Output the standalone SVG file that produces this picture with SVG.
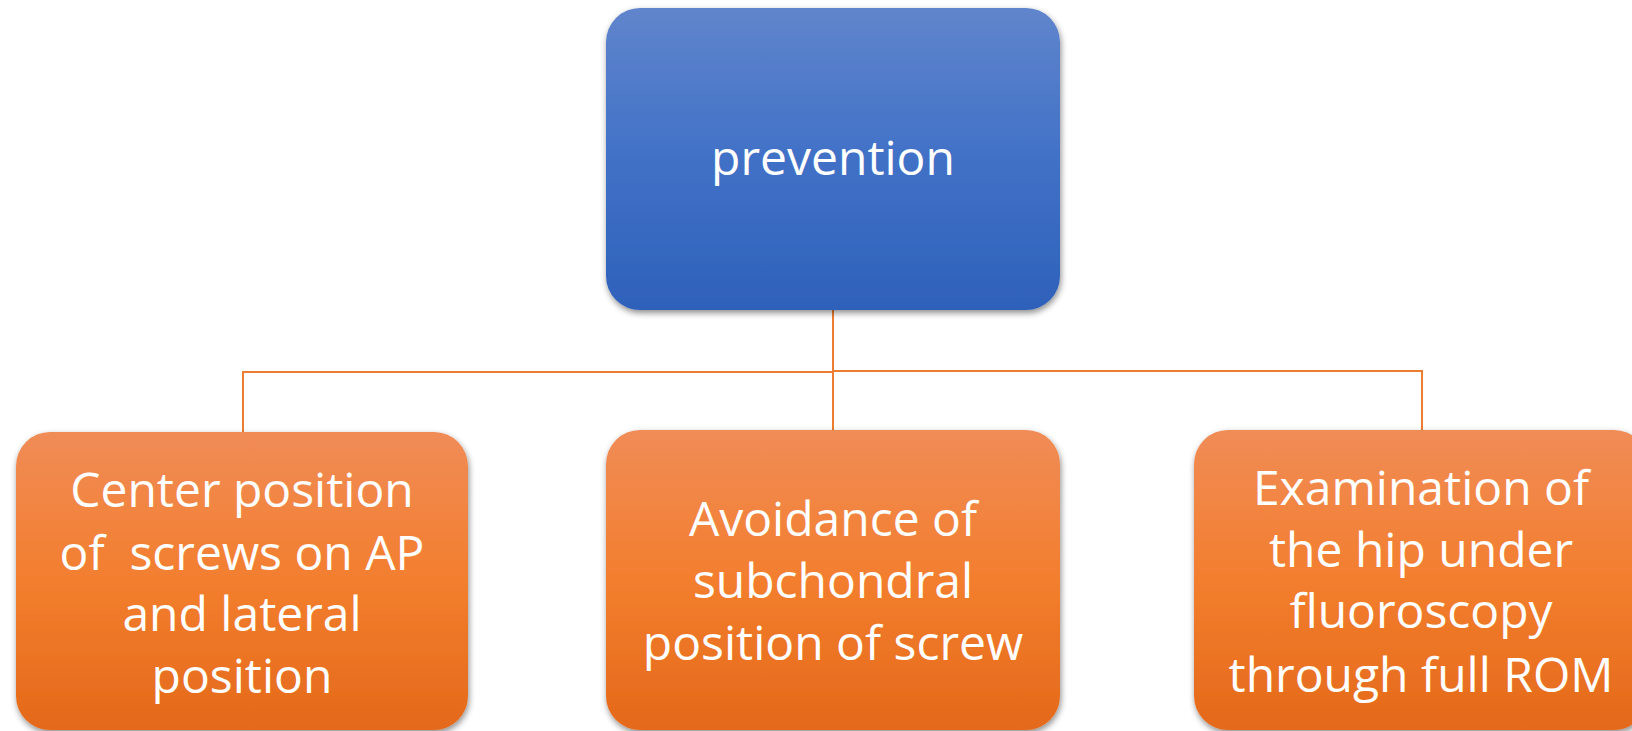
<svg xmlns="http://www.w3.org/2000/svg" width="1632" height="731" viewBox="0 0 1632 731">
  <defs>
    <linearGradient id="gradBlue" x1="0" y1="0" x2="0" y2="1">
      <stop offset="0" stop-color="#6085CC"/>
      <stop offset="0.5" stop-color="#4171C7"/>
      <stop offset="1" stop-color="#2E61BA"/>
    </linearGradient>
    <linearGradient id="gradOrange" x1="0" y1="0" x2="0" y2="1">
      <stop offset="0" stop-color="#F08C57"/>
      <stop offset="0.5" stop-color="#F37E2E"/>
      <stop offset="1" stop-color="#E4691A"/>
    </linearGradient>
    <filter id="shadow" x="-5%" y="-5%" width="110%" height="115%">
      <feDropShadow dx="1" dy="3" stdDeviation="3" flood-color="#000" flood-opacity="0.45"/>
    </filter>
  </defs>
  <style>
    .label { font-family: "Open Sans", "Noto Sans", sans-serif; fill: #FFFFFF; text-anchor: middle; }
    .top { font-size: 48px; }
    .sub { font-size: 48px; }
    .conn { fill: none; stroke: #ED7D31; stroke-width: 2; }
  </style>

  <rect width="1632" height="731" fill="#FFFFFF"/>

  <!-- connectors -->
  <g id="connectors">
    <path class="conn" d="M833 310 V430"/>
    <path class="conn" d="M833 372 H243 V432"/>
    <path class="conn" d="M833 371 H1422 V430"/>
  </g>

  <!-- root node -->
  <g id="node-prevention">
    <rect x="606" y="8" width="454" height="302" rx="34" ry="34" fill="url(#gradBlue)" filter="url(#shadow)"/>
    <text class="label top" x="833" y="175">prevention</text>
  </g>

  <!-- child nodes -->
  <g id="node-center-position">
    <rect x="16" y="432" width="452" height="298" rx="34" ry="34" fill="url(#gradOrange)" filter="url(#shadow)"/>
    <text class="label sub" x="242" y="507">Center position</text>
    <text class="label sub" x="242" y="570" xml:space="preserve">of  screws on AP</text>
    <text class="label sub" x="242" y="631">and lateral</text>
    <text class="label sub" x="242" y="693">position</text>
  </g>

  <g id="node-avoidance">
    <rect x="606" y="430" width="454" height="300" rx="34" ry="34" fill="url(#gradOrange)" filter="url(#shadow)"/>
    <text class="label sub" x="833" y="536">Avoidance of</text>
    <text class="label sub" x="833" y="598">subchondral</text>
    <text class="label sub" x="833" y="660">position of screw</text>
  </g>

  <g id="node-examination">
    <rect x="1194" y="430" width="454" height="300" rx="34" ry="34" fill="url(#gradOrange)" filter="url(#shadow)"/>
    <text class="label sub" x="1421" y="505">Examination of</text>
    <text class="label sub" x="1421" y="567">the hip under</text>
    <text class="label sub" x="1421" y="628">fluoroscopy</text>
    <text class="label sub" x="1421" y="692">through full ROM</text>
  </g>
</svg>
